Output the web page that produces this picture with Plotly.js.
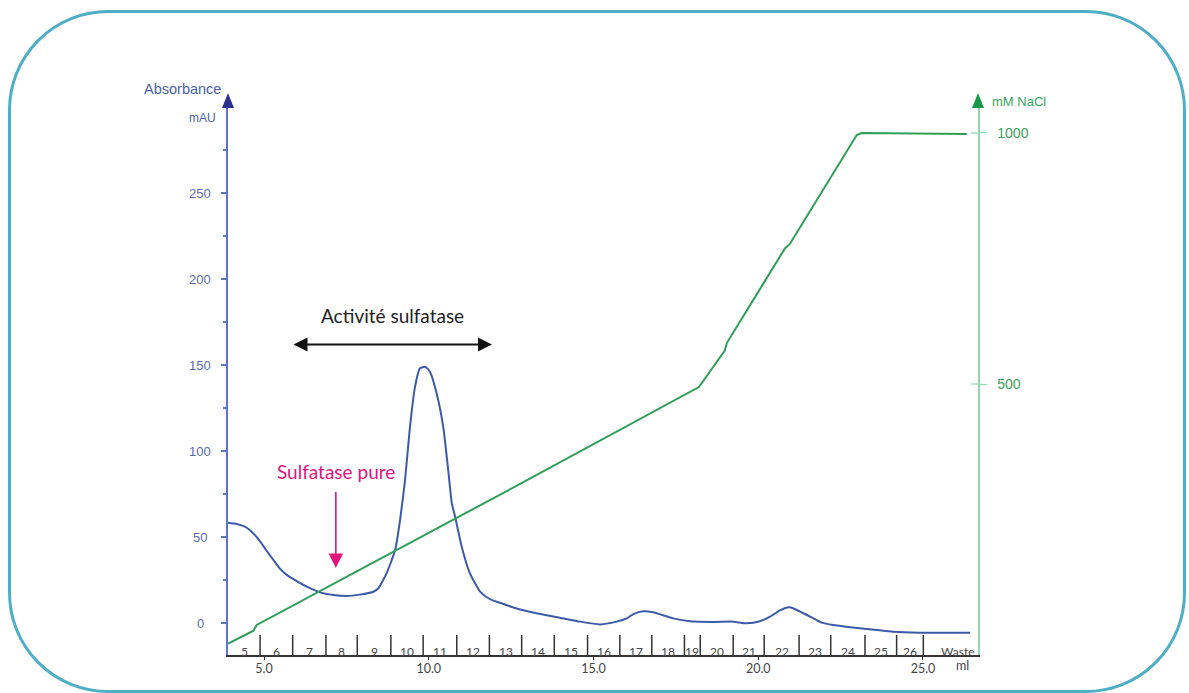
<!DOCTYPE html>
<html>
<head>
<meta charset="utf-8">
<script src="https://cdn.plot.ly/plotly-3.0.1.min.js"></script>
<style>
  html, body { margin: 0; padding: 0; background: #ffffff; }
  #wrap { position: relative; width: 1189px; height: 693px; overflow: hidden; }
  #chart { position: absolute; left: 0; top: 0; width: 1189px; height: 693px; }
  #frame { position: absolute; left: 8px; top: 10px; width: 1172px; height: 677px;
           border: 3px solid #4eaec6; border-radius: 100px; pointer-events: none; }
</style>
</head>
<body>
<div id="wrap">
  <div id="chart"></div>
  <div id="frame"></div>
</div>
<script>
// ---- Data: absorbance (mAU) vs elution volume (ml)
const absVolume = [3.91, 4.17, 4.42, 4.68, 4.88, 5.08, 5.29, 5.49, 5.69, 5.89, 6.30, 6.70, 7.10, 7.51, 7.91, 8.32, 8.47, 8.72, 8.98, 9.13, 9.28, 9.43, 9.58, 9.73, 9.89, 10.04, 10.24, 10.44, 10.59, 10.70, 10.80, 11.00, 11.25, 11.56, 11.76, 11.96, 12.16, 12.57, 13.00, 13.58, 13.98, 14.59, 15.20, 15.70, 16.01, 16.21, 16.51, 16.81, 17.42, 17.93, 18.64, 19.24, 19.65, 20.05, 20.36, 20.66, 20.91, 21.02, 21.27, 21.62, 21.93, 22.28, 23.09, 24.10, 24.91, 26.43];
const absValues = [58.3, 57.6, 56.0, 52.0, 47.5, 42.0, 36.5, 31.5, 28.0, 25.5, 21.1, 17.8, 16.3, 15.7, 16.5, 18.2, 20.2, 28.9, 42.4, 59.9, 83.0, 114.0, 137.0, 148.0, 149.0, 146.0, 133.5, 114.0, 89.0, 69.6, 61.8, 44.4, 28.9, 18.2, 15.0, 13.0, 11.8, 9.0, 6.8, 4.5, 3.1, 0.8, -0.8, 0.8, 2.7, 5.2, 6.8, 6.2, 2.7, 1.0, 0.6, 0.8, -0.2, 1.0, 3.7, 7.4, 9.1, 8.9, 6.6, 3.3, 0.2, -1.2, -3.1, -5.1, -5.6, -5.6];

// ---- Data: NaCl gradient (mM) vs elution volume (ml)
const naclVolume = [3.91, 4.68, 4.78, 12.80, 18.20, 18.98, 19.05, 20.81, 20.96, 22.99, 23.14, 26.33];
const naclValues = [-17, 8.6, 20, 302, 494, 566, 582, 770, 779, 996, 1000, 998];

// ---- Axis tick values / labels
const absTicks = [0, 50, 100, 150, 200, 250];
const naclTicks = [500, 1000];
const volumeTicks = [5, 10, 15, 20, 25];
const volumeTickText = ['5.0', '10.0', '15.0', '20.0', '25.0'];

// ---- Fractions collected (boundaries in ml) and their labels
const fractionBounds = [3.91, 4.88, 5.87, 6.88, 7.83, 8.85, 9.83, 10.85, 11.84, 12.82, 13.81, 14.82, 15.80, 16.77, 17.76, 18.24, 19.24, 20.18, 21.24, 22.20, 23.24, 24.20, 25.01, 27.10];
const fractionLabels = ['5','6','7','8','9','10','11','12','13','14','15','16','17','18','19','20','21','22','23','24','25','26','Waste'];

// ---- Annotation anchors (data units)
const activityRange = [5.85, 11.92];   // ml, double arrow "Activité sulfatase"
const activityLevel = 162;             // mAU
const pureFraction = 7.18;             // ml, arrow "Sulfatase pure"
const pureArrow = [77, 32];            // mAU (top, tip)

const BLUE = '#3d5aa8';
const BLUE_AXIS = '#5c76c6';
const BLUE_TXT = '#5a6cae';
const GREEN = '#2f9e58';
const GREEN_AXIS = '#93d7ae';
const GREEN_TXT = '#3aa35c';
const MAGENTA = '#e2147c';
const CAL = 'Lato, "Open Sans", sans-serif';
const ARIAL = '"Liberation Sans", Arial, sans-serif';

// plot area geometry (for pixel-sized decorations in paper units)
const W = 1189, H = 693, ML = 228, MR = 211, MT = 100, MB = 38;
const PW = W - ML - MR, PH = H - MT - MB;
const px = v => v / PW, py = v => v / PH;

const traces = [
  { x: absVolume, y: absValues, type: 'scatter', mode: 'lines', yaxis: 'y',
    line: { color: BLUE, width: 2, shape: 'spline', smoothing: 0.5 }, hoverinfo: 'skip' },
  { x: naclVolume, y: naclValues, type: 'scatter', mode: 'lines', yaxis: 'y2',
    line: { color: GREEN, width: 2 }, hoverinfo: 'skip' }
];

const shapes = [];
// fraction tick marks on the x axis
for (let i = 1; i < fractionBounds.length - 1; i++) {
  shapes.push({ type: 'line', xref: 'x', yref: 'paper', x0: fractionBounds[i], x1: fractionBounds[i],
    y0: 0, y1: py(20), line: { color: '#333', width: 1.5 } });
}
// crossing ticks on right axis (inner half)
naclTicks.forEach(v => shapes.push({ type: 'line', xref: 'paper', yref: 'y2', x0: 1 - px(7), x1: 1, y0: v, y1: v,
  line: { color: GREEN_AXIS, width: 1.2 } }));
// arrow heads at top of both vertical axes
const tri = (cx, color) => ({ type: 'path', xref: 'paper', yref: 'paper',
  path: `M ${cx - px(6)} ${1 + py(-8)} L ${cx + px(6)} ${1 + py(-8)} L ${cx} ${1 + py(7)} Z`,
  fillcolor: color, line: { color: color, width: 0 } });
shapes.push(tri(0, '#2e3190'));
shapes.push(tri(1, '#16994a'));

const annotations = [];
// left tick labels (centred like the original)
absTicks.forEach(v => annotations.push({ xref: 'paper', yref: 'y', x: -px(28), y: v, text: String(v),
  showarrow: false, xanchor: 'center', yanchor: 'middle', font: { family: ARIAL, size: 13, color: BLUE_TXT } }));
// fraction labels
for (let i = 0; i < fractionLabels.length; i++) {
  annotations.push({ xref: 'x', yref: 'paper', x: (fractionBounds[i] + fractionBounds[i + 1]) / 2, y: py(4),
    text: fractionLabels[i], showarrow: false, xanchor: 'center', yanchor: 'middle',
    font: { family: CAL, size: 12, color: '#444' } });
}
annotations.push({ xref: 'x', yref: 'paper', x: 26.21, y: -py(10), text: 'ml', showarrow: false,
  xanchor: 'center', yanchor: 'middle', font: { family: CAL, size: 12.5, color: '#444' } });
// axis titles
annotations.push({ xref: 'paper', yref: 'paper', x: -px(5), y: 1 + py(11), text: 'Absorbance', showarrow: false,
  xanchor: 'right', yanchor: 'middle', font: { family: ARIAL, size: 14.5, color: '#4a5fa8' } });
annotations.push({ xref: 'paper', yref: 'paper', x: -px(10), y: 1 - py(18), text: 'mAU', showarrow: false,
  xanchor: 'right', yanchor: 'middle', font: { family: ARIAL, size: 12, color: '#4a5fa8' } });
annotations.push({ xref: 'paper', yref: 'paper', x: 1 + px(12), y: 1 - py(2), text: 'mM NaCl', showarrow: false,
  xanchor: 'left', yanchor: 'middle', font: { family: ARIAL, size: 13, color: GREEN_TXT } });
// Activité sulfatase
annotations.push({ xref: 'x', yref: 'y', x: (activityRange[0] + activityRange[1]) / 2, y: activityLevel + 17,
  text: 'Activité sulfatase', showarrow: false, xanchor: 'center', yanchor: 'middle',
  font: { family: CAL, size: 19, color: '#222' } });
annotations.push({ xref: 'x', yref: 'y', axref: 'x', ayref: 'y', x: activityRange[1], y: activityLevel,
  ax: activityRange[0], ay: activityLevel, text: '', showarrow: true, arrowside: 'end+start',
  arrowhead: 2, arrowsize: 1.4, arrowwidth: 2, arrowcolor: '#111', standoff: 0, startstandoff: 0 });
// Sulfatase pure
annotations.push({ xref: 'x', yref: 'y', x: pureFraction, y: pureArrow[0] + 11, text: 'Sulfatase pure',
  showarrow: false, xanchor: 'center', yanchor: 'middle', font: { family: CAL, size: 19, color: MAGENTA } });
annotations.push({ xref: 'x', yref: 'y', axref: 'x', ayref: 'y', x: pureFraction, y: pureArrow[1],
  ax: pureFraction, ay: pureArrow[0], text: '', showarrow: true,
  arrowhead: 2, arrowsize: 1.8, arrowwidth: 1.6, arrowcolor: MAGENTA, standoff: 0 });

const layout = {
  width: W, height: H,
  margin: { l: ML, r: MR, t: MT, b: MB, pad: 0 },
  paper_bgcolor: 'rgba(0,0,0,0)', plot_bgcolor: 'rgba(0,0,0,0)',
  showlegend: false,
  xaxis: { range: [3.907, 26.67], showgrid: false, zeroline: false, showline: true,
    linecolor: '#333', linewidth: 1.5, tickmode: 'array', tickvals: volumeTicks, ticktext: volumeTickText,
    ticks: 'outside', ticklen: 3, tickcolor: '#333', ticklabelstandoff: -2,
    tickfont: { family: CAL, size: 12.5, color: '#444' } },
  yaxis: { range: [-18.6, 304.1], showgrid: false, zeroline: false, showline: true,
    linecolor: BLUE_AXIS, linewidth: 2, tickmode: 'array', tickvals: absTicks, showticklabels: false,
    ticks: 'outside', ticklen: 5, tickcolor: BLUE_AXIS, tickwidth: 1.5,
    minor: { tickmode: 'linear', tick0: 0, dtick: 25, ticks: 'outside', ticklen: 3, tickcolor: BLUE_AXIS } },
  yaxis2: { range: [-39.8, 1065.7], overlaying: 'y', side: 'right', showgrid: false, zeroline: false,
    showline: true, linecolor: GREEN_AXIS, linewidth: 1.5, tickmode: 'array', tickvals: naclTicks,
    ticks: 'outside', ticklen: 7, tickcolor: GREEN_AXIS, ticklabelstandoff: 8,
    tickfont: { family: ARIAL, size: 14, color: GREEN_TXT } },
  shapes: shapes,
  annotations: annotations
};

Plotly.newPlot('chart', traces, layout, { staticPlot: true, displayModeBar: false });
</script>
</body>
</html>
